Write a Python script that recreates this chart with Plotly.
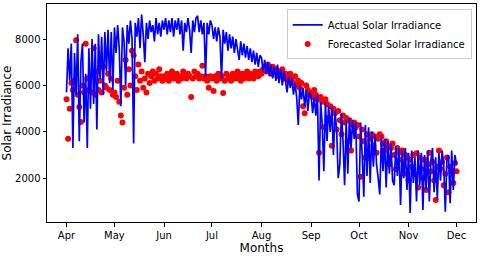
import pandas as pd
import plotly.graph_objects as go

start_date = "2023-04-01"
end_date = "2023-12-01"

actual = [
    # Apr
    5700, 7600, 6200, 7800, 3300, 7400, 5600, 8200, 3600, 7000,
    7800, 4400, 6500, 3300, 7600, 5000, 8000, 5200, 7800, 4100,
    8200, 6300, 8100, 5600, 8300, 6600, 8400, 6100, 8300, 5800,
    # May
    8500, 7400, 8600, 7600, 5100, 8500, 7900, 6000, 8600, 7800,
    8800, 8000, 3500, 8700, 8100, 8900, 7600, 9050, 8200, 7000,
    8700, 8000, 8800, 8300, 8600, 7900, 8900, 8200, 8700, 8100, 8800,
    # Jun
    8400, 8900, 8200, 8800, 8300, 8900, 8100, 8800, 8400, 8900,
    8200, 8800, 7500, 8700, 8300, 8900, 8400, 7400, 8800, 8300,
    8900, 9000, 8300, 8800, 8200, 8700, 6400, 8700, 8200, 8800,
    # Jul
    8600, 8000, 8500, 7900, 8500, 8100, 6300, 8400, 7800, 8300,
    7500, 8200, 7600, 8100, 7400, 8000, 7500, 7100, 7900, 7300,
    7800, 7200, 7700, 7100, 7600, 7000, 7500, 6900, 7400, 6800, 7300,
    # Aug
    7200, 6600, 7100, 6500, 7000, 6400, 6900, 6300, 6800, 6200,
    6900, 6100, 6700, 6000, 6600, 6200, 5700, 6400, 5900, 6300,
    5600, 6100, 5500, 4300, 6000, 5400, 5900, 5100, 5800, 4900, 5700,
    # Sep
    5600, 4800, 5500, 4700, 5600, 1900, 5300, 4300, 2300, 5300,
    3600, 5100, 4000, 5100, 3000, 4900, 4100, 2000, 2600, 4800,
    3600, 1700, 4500, 2200, 4600, 3300, 4500, 3700, 4400, 1300,
    # Oct
    1000, 4400, 3000, 1200, 4300, 2100, 4200, 1800, 4000, 2500,
    3900, 2600, 2000, 1300, 3800, 2300, 3700, 1600, 3600, 2200,
    3500, 1900, 1700, 3400, 2100, 3300, 850, 3200, 2000, 3300, 1500,
    # Nov
    3100, 500, 3200, 1800, 2900, 1000, 3200, 1700, 3100, 630,
    3000, 1500, 3200, 1000, 2800, 3300, 1400, 2900, 1100, 3100,
    1900, 3200, 2600, 560, 2800, 3000, 930, 3200, 1500, 3000,
    # Dec 1
    2600,
]

forecast = [
    # Apr
    5400, 3700, 5000, 6100, 5800, 6200, 7950, 5600, 5070, 4420,
    6000, 5700, 7800, 6300, 5800, 6400, 5700, 7600, 5600, 6600,
    5800, 6200, 5700, 6800, 6000, 5900, 6500, 5800, 6300, 5600,
    # May
    5700, 5500, 6200, 5300, 4700, 4400, 5900, 7100, 5600, 6700,
    6000, 7500, 7300, 6400, 5800, 6900, 6200, 6600, 5900, 6300,
    5700, 6500, 6100, 6400, 6600, 6200, 6500, 6300, 6700, 6400, 6200,
    # Jun
    6400, 6300, 6500, 6200, 6400, 6600, 6300, 6400, 6500, 6200,
    6400, 6300, 6600, 6400, 6300, 6500, 6400, 5500, 6300, 6600,
    6400, 6500, 6300, 6400, 6850, 6300, 6400, 6200, 5900, 6400,
    # Jul
    6300, 5760, 6400, 6200, 6500, 6300, 6400, 5670, 6200, 6500,
    6300, 6400, 6200, 6500, 6400, 6300, 6600, 6400, 6200, 6500,
    6300, 6400, 6600, 6300, 6500, 6400, 6300, 6600, 6500, 6400, 6600,
    # Aug
    6500, 6700, 6800, 6600, 6900, 6700, 6500, 6800, 6600, 6700,
    6400, 6600, 6500, 6700, 6300, 6500, 6400, 6200, 6500, 6300,
    6100, 6400, 6000, 6200, 5900, 6100, 5100, 4800, 6000, 5800, 5600,
    # Sep
    5700, 5500, 5800, 5600, 5400, 3100, 5500, 5300, 4200, 5400,
    5200, 4600, 5100, 3400, 5000, 4800, 4100, 4900, 4500, 3900,
    4700, 4400, 4600, 3600, 4500, 3200, 4300, 4400, 4200, 4300,
    # Oct
    3800, 2070, 4100, 3600, 2900, 3900, 2870, 3700, 3900, 3400,
    3800, 3100, 3700, 3900, 3800, 3500, 3200, 3600, 3400, 2600,
    3300, 3500, 3000, 2400, 3300, 3100, 2800, 3200, 2200, 3000, 2900,
    # Nov
    1900, 2800, 2500, 3000, 2200, 3080, 1600, 2900, 2400, 2000,
    2800, 1500, 2600, 3100, 2300, 2700, 1900, 1060, 2500, 3200,
    2400, 2700, 1700, 2200, 2900, 1400, 2500, 2300, 1800, 2650,
    # Dec 1
    2300,
]

month_labels = ["Apr", "May", "Jun", "Jul", "Aug", "Sep", "Oct", "Nov", "Dec"]

dates = pd.date_range(start_date, end_date, freq="D")
tick_dates = pd.date_range(start_date, end_date, freq="MS")

span = dates[-1] - dates[0]
x_range = [dates[0] - span * 0.05, dates[-1] + span * 0.05]

fig = go.Figure()
fig.add_trace(go.Scatter(
    x=dates, y=forecast, mode="markers", name="Forecasted Solar Irradiance",
    marker=dict(color="#ff0000", size=6, line=dict(width=0)), legendrank=2,
))
fig.add_trace(go.Scatter(
    x=dates, y=actual, mode="lines", name="Actual Solar Irradiance",
    line=dict(color="#0000ff", width=1.7), legendrank=1,
))

font = dict(family="DejaVu Sans", size=10, color="#000000")
fig.update_layout(
    width=480, height=258,
    margin=dict(l=47, r=4, t=4, b=36),
    paper_bgcolor="white", plot_bgcolor="white",
    font=font,
    showlegend=True,
    legend=dict(
        x=0.99, y=0.975, xanchor="right", yanchor="top",
        bgcolor="rgba(255,255,255,0.8)", bordercolor="#cccccc", borderwidth=1,
        font=dict(family="DejaVu Sans", size=10, color="#000000"),
        tracegroupgap=0, itemwidth=30,
    ),
)
fig.update_xaxes(
    range=x_range, tickvals=tick_dates, ticktext=month_labels,
    showgrid=False, zeroline=False, showline=True, mirror=True,
    linecolor="#000000", linewidth=1, ticks="outside", ticklen=3.5,
    tickcolor="#000000", automargin=False,
    title=dict(text="Months", standoff=4),
)
fig.update_yaxes(
    range=[116, 9509], tickvals=[2000, 4000, 6000, 8000],
    showgrid=False, zeroline=False, showline=True, mirror=True,
    linecolor="#000000", linewidth=1, ticks="outside", ticklen=3.5,
    tickcolor="#000000", automargin=False,
    title=dict(text="Solar Irradiance", standoff=6),
)

fig.write_html(
    "out.html",
    config={"displayModeBar": False},
    post_script="document.body.style.margin='0';document.body.style.overflow='hidden';",
)
